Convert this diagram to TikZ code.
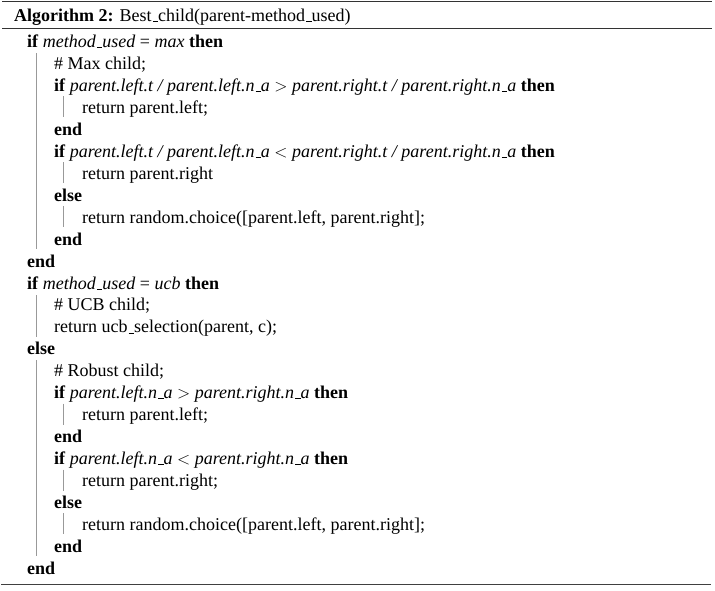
\documentclass[tikz,border=0pt]{standalone}
\usepackage{fontspec}
\setmainfont{Liberation Serif}
\usetikzlibrary{positioning}
\newcommand{\kw}[1]{\textbf{#1}}
\newcommand{\ar}[1]{\textit{#1}}
\newcommand{\us}{\leavevmode\kern.06em\vbox{\hrule width.3em}}

\begin{document}
\begin{tikzpicture}[x=1pt, y=-1pt,
	algline/.style={anchor=base west, inner sep=0pt, font=\fontsize{18}{21}\selectfont},
	blockbar/.style={line width=0.9pt, color=black!40}]
		%%%%% FRAME %%%%%
		\useasboundingbox (0, 0) rectangle (715, 590);
		\draw[line width=1.1pt, color=black!80] (2, 1.5) -- (712, 1.5);
		\draw[line width=0.9pt, color=black!80] (2, 28.5) -- (712, 28.5);
		\draw[line width=1.8pt, color=black!75] (1, 584.5) -- (711, 584.5);
		
		\node[algline] (title) at (14, 21) {\kw{Algorithm 2:} Best\us child(parent-method\us used)};
		
		%%%%% FIRST IF %%%%%
		\node[algline] (l1) at (27, 47.5) {\kw{if} \ar{method\us used} = \ar{max} \kw{then}};
		\node[algline] (l2) at (54, 69.5) {\# Max child;};
		\node[algline] (l3) at (54, 91.4) {\kw{if} \ar{parent.left.t / parent.left.n\us a} $>$ \ar{parent.right.t / parent.right.n\us a} \kw{then}};
		\node[algline] (l4) at (82, 113.4) {return parent.left;};
		\node[algline] (l5) at (54, 135.3) {\kw{end}};
		\node[algline] (l6) at (54, 157.3) {\kw{if} \ar{parent.left.t / parent.left.n\us a} $<$ \ar{parent.right.t / parent.right.n\us a} \kw{then}};
		\node[algline] (l7) at (82, 179.2) {return parent.right};
		\node[algline] (l8) at (54, 201.2) {\kw{else}};
		\node[algline] (l9) at (82, 223.1) {return random.choice([parent.left, parent.right];};
		\node[algline] (l10) at (54, 245.1) {\kw{end}};
		\node[algline] (l11) at (27, 267) {\kw{end}};
		
		%%%%% SECOND IF %%%%%
		\node[algline] (l12) at (27, 289) {\kw{if} \ar{method\us used} = \ar{ucb} \kw{then}};
		\node[algline] (l13) at (54, 310.9) {\# UCB child;};
		\node[algline] (l14) at (54, 332.9) {return ucb\us selection(parent, c);};
		\node[algline] (l15) at (27, 354.8) {\kw{else}};
		\node[algline] (l16) at (54, 376.8) {\# Robust child;};
		\node[algline] (l17) at (54, 398.7) {\kw{if} \ar{parent.left.n\us a} $>$ \ar{parent.right.n\us a} \kw{then}};
		\node[algline] (l18) at (82, 420.7) {return parent.left;};
		\node[algline] (l19) at (54, 442.6) {\kw{end}};
		\node[algline] (l20) at (54, 464.6) {\kw{if} \ar{parent.left.n\us a} $<$ \ar{parent.right.n\us a} \kw{then}};
		\node[algline] (l21) at (82, 486.5) {return parent.right;};
		\node[algline] (l22) at (54, 508.5) {\kw{else}};
		\node[algline] (l23) at (82, 530.4) {return random.choice([parent.left, parent.right];};
		\node[algline] (l24) at (54, 552.4) {\kw{end}};
		\node[algline] (l25) at (27, 574.3) {\kw{end}};
		
		%%%%% BLOCK BARS %%%%%
		\draw[blockbar] (36, 53) -- (36, 249);
		\draw[blockbar] (36, 295) -- (36, 337);
		\draw[blockbar] (36, 360) -- (36, 556);
		
		\foreach \y in {113.4, 179.2, 223.1, 420.7, 486.5, 530.4}
			\draw[blockbar] (63, \y-17) -- (63, \y+4);
		
		%%%%% END %%%%%
	\end{tikzpicture}
\end{document}
